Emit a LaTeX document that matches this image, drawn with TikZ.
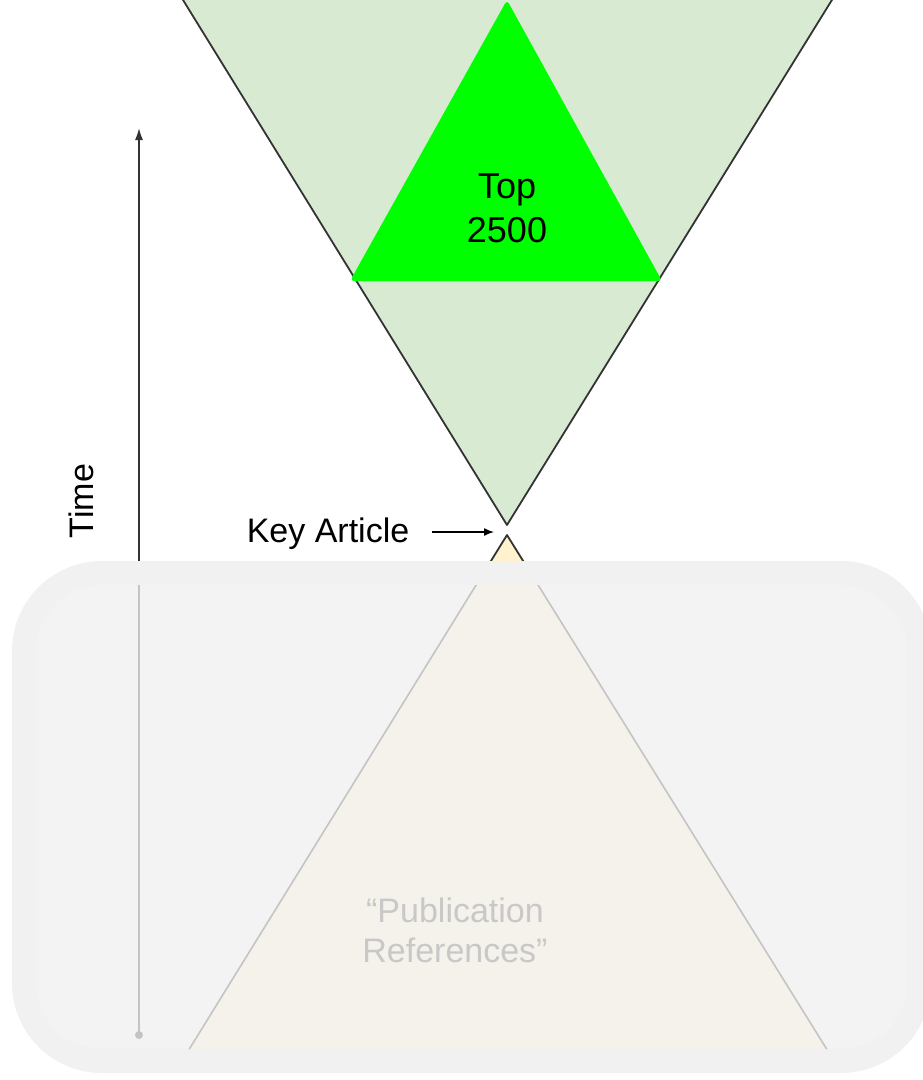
\documentclass[tikz,border=0pt]{standalone}
\usepackage{fontspec}
\setmainfont{Liberation Sans}
\usetikzlibrary{arrows.meta}
\definecolor{lightgreen}{HTML}{D9EAD3}
\definecolor{brightgreen}{HTML}{00FF00}
\definecolor{paleyellow}{HTML}{FFF2CC}
\definecolor{outline}{HTML}{333333}
\definecolor{bandgray}{HTML}{F1F1F1}
\definecolor{innergray}{HTML}{F3F3F3}
\definecolor{fadefill}{HTML}{F4F2EB}
\definecolor{fadeline}{HTML}{C4C4C4}
\definecolor{fadetext}{HTML}{C8C8C8}
\tikzset{
  tri/.style={draw=outline, line width=1.8pt, line join=round},
  label/.style={inner sep=0pt, font=\fontsize{34}{40}\selectfont},
  axis/.style={draw=outline, line width=1.6pt},
}
\begin{document}
\begin{tikzpicture}[x=1pt,y=-1pt]
\useasboundingbox (0,0) rectangle (923,1080);
\clip (0,0) rectangle (923,1080);
\fill[white] (0,0) rectangle (923,1080);
% coordinates
\coordinate (bigL) at (167,-26);
\coordinate (bigR) at (848,-26);
\coordinate (apex) at (507,525);
\coordinate (topA) at (507,0);
\coordinate (topL) at (350,281);
\coordinate (topR) at (662,281);
\coordinate (keyA) at (507,535);
\coordinate (keyL) at (185,1056);
\coordinate (keyR) at (831,1056);
\coordinate (timeS) at (139,1035);
\coordinate (timeE) at (139,128);
% big inverted triangle
\filldraw[tri, fill=lightgreen] (bigL) -- (bigR) -- (apex) -- cycle;
% bright green triangle
\fill[brightgreen, rounded corners=4pt] (topA) -- (topR) -- (topL) -- cycle;
\node[label, align=center, font=\fontsize{36}{44}\selectfont] (top) at (507,208) {Top\\2500};
% key article (bottom triangle)
\filldraw[tri, fill=paleyellow] (keyA) -- (keyR) -- (keyL) -- cycle;
\node[label, anchor=base] (key) at (328,542) {Key Article};
\coordinate (keyTip) at (494,532);
\draw[draw=black, line width=1.4pt, -{Latex[length=10pt,width=8pt]}] (key.east |- keyTip) ++(23,0) coordinate (keyTail) -- (keyTip);
% time axis
\draw[axis, -{Latex[length=12pt,width=8pt]}] (timeS) -- (timeE);
\node[label, rotate=90, anchor=base] (time) at (93,501) {Time};
% overlay band
\fill[bandgray, rounded corners=90pt] (12,561) rectangle (931,1073);
\fill[innergray, rounded corners=66pt] (36,585) rectangle (907,1049);
\begin{scope}
\clip[rounded corners=66pt] (36,585) rectangle (907,1049);
\filldraw[fill=fadefill, draw=fadeline, line width=1.6pt] (keyA) -- (keyR) -- (keyL) -- cycle;
\draw[draw=fadeline, line width=1.6pt] (timeS) -- (139,585);
\fill[fadeline] (timeS) circle (4pt);
\end{scope}
\node[label, align=center, text=fadetext] (pub) at (455,930) {“Publication\\References”};
\end{tikzpicture}
\end{document}
